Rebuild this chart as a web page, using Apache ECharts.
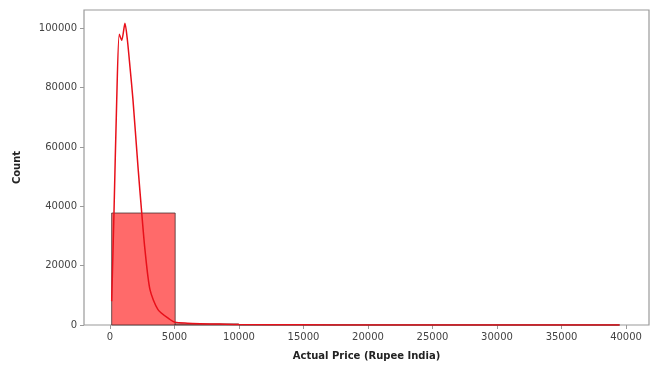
<!DOCTYPE html>
<html>
<head>
<meta charset="utf-8">
<script src="https://cdn.jsdelivr.net/npm/echarts@6/dist/echarts.min.js"></script>
<style>html,body{margin:0;padding:0;background:#fff;}#c{width:651px;height:372px;}</style>
</head>
<body>
<div id="c"></div>
<script>
// Histogram bins (edges) and counts
const binEdges = [130, 5051, 9972, 14893, 19814, 24735, 29656, 34577, 39498];
const binCounts = [37750, 350, 60, 25, 12, 6, 4, 3];
// KDE curve (x, density scaled to count)
const kdeX = [130, 310, 520, 720, 910, 1160, 1350, 1550, 1780, 2170, 2460, 2710, 3100, 3720, 4650, 5040, 6000, 7000, 8500, 10000, 15000, 20000, 25000, 30000, 35000, 39498];
const kdeY = [8000, 38000, 75700, 98000, 96000, 101700, 96000, 87000, 76000, 53300, 37800, 25400, 11900, 5200, 1850, 900, 600, 450, 300, 150, 60, 30, 20, 12, 8, 5];
const xTicks = [0, 5000, 10000, 15000, 20000, 25000, 30000, 35000, 40000];
const yTicks = [0, 20000, 40000, 60000, 80000, 100000];

const histData = binCounts.map((c, i) => [binEdges[i], binEdges[i + 1], c]);
const kdeData = kdeX.map((x, i) => [x, kdeY[i]]);

const chart = echarts.init(document.getElementById('c'));
const labelStyle = { fontFamily: 'DejaVu Sans', fontSize: 10, color: '#444', formatter: v => String(v) };
chart.setOption({
  animation: false,
  grid: { left: 84, right: 2, top: 10, bottom: 47, show: true, borderColor: '#9a9a9a', borderWidth: 1.2, backgroundColor: '#fff' },
  xAxis: {
    type: 'value', min: -2015, max: 41780,
    name: 'Actual Price (Rupee India)', nameLocation: 'middle', nameGap: 26,
    nameTextStyle: { fontFamily: 'DejaVu Sans', fontSize: 10, fontWeight: 'bold', color: '#222' },
    axisLine: { show: false, onZero: false },
    axisTick: { show: true, length: 4, lineStyle: { color: '#9a9a9a' }, customValues: xTicks },
    axisLabel: Object.assign({ margin: 7, customValues: xTicks }, labelStyle),
    splitLine: { show: false }
  },
  yAxis: {
    type: 'value', min: 0, max: 106200,
    name: 'Count', nameLocation: 'middle', nameGap: 62,
    nameTextStyle: { fontFamily: 'DejaVu Sans', fontSize: 10, fontWeight: 'bold', color: '#222' },
    axisLine: { show: false, onZero: false },
    axisTick: { show: true, length: 4, lineStyle: { color: '#9a9a9a' }, customValues: yTicks },
    axisLabel: Object.assign({ margin: 7, customValues: yTicks }, labelStyle),
    splitLine: { show: false }
  },
  series: [
    {
      type: 'custom',
      data: histData,
      encode: { x: [0, 1], y: 2 },
      renderItem: function (params, api) {
        const p0 = api.coord([api.value(0), api.value(2)]);
        const p1 = api.coord([api.value(1), 0]);
        return {
          type: 'rect',
          shape: { x: p0[0], y: p0[1], width: p1[0] - p0[0], height: p1[1] - p0[1] },
          style: { fill: 'rgba(255,80,80,0.85)', stroke: 'rgba(60,40,40,0.75)', lineWidth: 1 }
        };
      },
      z: 2
    },
    {
      type: 'line',
      data: kdeData,
      smooth: 0.25,
      showSymbol: false,
      lineStyle: { color: '#e8101a', width: 1.5 },
      z: 3
    }
  ]
});
</script>
</body>
</html>
